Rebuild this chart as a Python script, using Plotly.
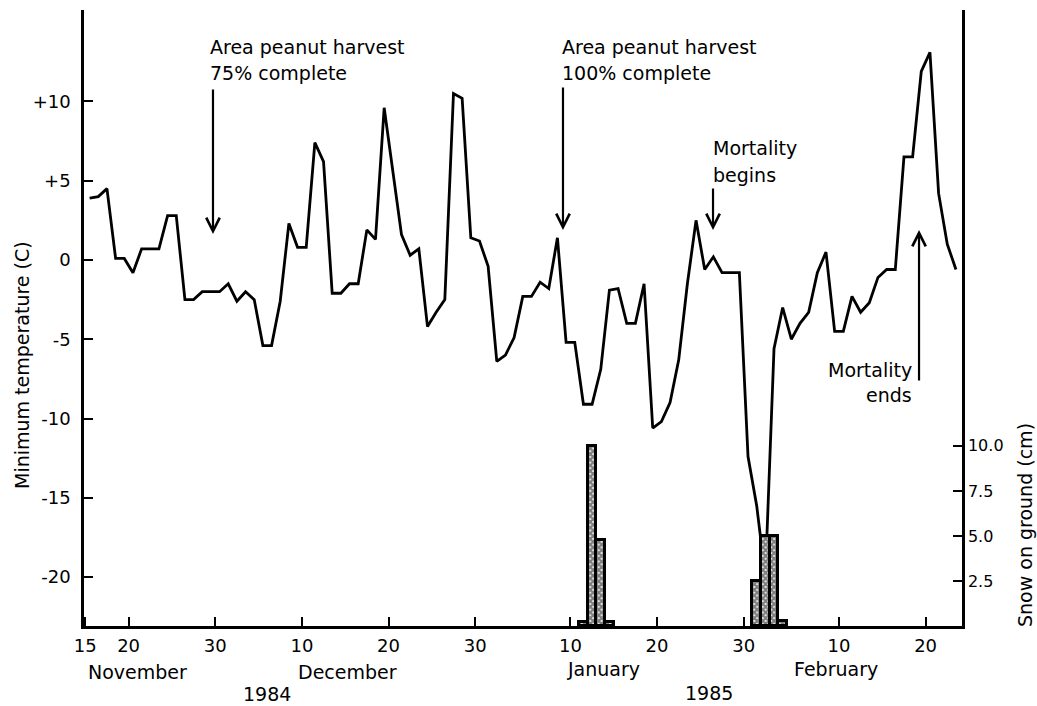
import plotly.graph_objects as go
import pandas as pd

# ---------------- data ----------------
start = pd.Timestamp("1984-11-15")

# daily minimum temperature (C), 15 Nov 1984 .. 23 Feb 1985
temp_c = [
    3.9, 4.0, 4.5, 0.1, 0.1, -0.8, 0.7, 0.7, 0.7, 2.8,      # Nov 15-24
    2.8, -2.5, -2.5, -2.0, -2.0, -2.0, -1.5, -2.6, -2.0, -2.5,  # Nov 25 - Dec 4
    -5.4, -5.4, -2.6, 2.3, 0.8, 0.8, 7.4, 6.2, -2.1, -2.1,  # Dec 5-14
    -1.5, -1.5, 1.9, 1.3, 9.6, 5.5, 1.6, 0.3, 0.7, -4.2,    # Dec 15-24
    -3.3, -2.5, 10.5, 10.2, 1.4, 1.2, -0.4, -6.4, -6.0, -4.9,  # Dec 25 - Jan 3
    -2.3, -2.3, -1.4, -1.8, 1.4, -5.2, -5.2, -9.1, -9.1, -6.9,  # Jan 4-13
    -1.9, -1.8, -4.0, -4.0, -1.5, -10.6, -10.2, -9.0, -6.3, -1.5,  # Jan 14-23
    2.5, -0.6, 0.2, -0.8, -0.8, -0.8, -12.4, -15.5, -20.0, -5.6,  # Jan 24 - Feb 2
    -3.0, -5.0, -4.0, -3.3, -0.8, 0.5, -4.5, -4.5, -2.3, -3.3,  # Feb 3-12
    -2.7, -1.1, -0.6, -0.6, 6.5, 6.5, 11.9, 13.1, 4.2, 1.0,  # Feb 13-22
    -0.6,                                                    # Feb 23
]
temp_dates = [start + pd.Timedelta(days=i, hours=12) for i in range(len(temp_c))]

snow_days = ["1985-01-11", "1985-01-12", "1985-01-13", "1985-01-14",
             "1985-01-31", "1985-02-01", "1985-02-02", "1985-02-03"]
snow_cm = [0.2, 10.0, 4.8, 0.2, 2.5, 5.0, 5.0, 0.3]
snow_dates = [pd.Timestamp(d) + pd.Timedelta(hours=12) for d in snow_days]

tick_dates = ["1984-11-15", "1984-11-20", "1984-11-30", "1984-12-10", "1984-12-20",
              "1984-12-30", "1985-01-10", "1985-01-20", "1985-01-30", "1985-02-10",
              "1985-02-20"]
tick_text = ["15", "20", "30", "10", "20", "30", "10", "20", "30", "10", "20"]

temp_ticks = [10, 5, 0, -5, -10, -15, -20]
temp_tick_text = ["+10", "+5", "0", "-5", "-10", "-15", "-20"]
snow_ticks = [2.5, 5.0, 7.5, 10.0]
snow_tick_text = ["2.5", "5.0", "7.5", "10.0"]

month_labels = ["November", "December", "January", "February"]
year_labels = ["1984", "1985"]


def at(day):
    return start + pd.Timedelta(days=day)


FONT = "DejaVu Sans"

fig = go.Figure()
fig.add_trace(go.Scatter(
    x=temp_dates, y=temp_c, mode="lines",
    line=dict(color="black", width=2.8), hoverinfo="skip", showlegend=False,
))
fig.add_trace(go.Bar(
    x=snow_dates, y=snow_cm, yaxis="y2", width=86400000,
    marker=dict(color="white", line=dict(color="black", width=3),
                pattern=dict(shape="x", fgcolor="black", bgcolor="white",
                             size=4, solidity=0.8)),
    hoverinfo="skip", showlegend=False,
))

ann = []


def txt(s, x, y, xanchor="left", size=19):
    ann.append(dict(text=s, x=x, y=y, xref="x", yref="paper", xanchor=xanchor,
                    yanchor="middle", showarrow=False,
                    font=dict(family=FONT, size=size, color="black")))


txt("Area peanut harvest", at(14.16), 0.940)
txt("75% complete", at(14.16), 0.898)
txt("Area peanut harvest", at(54.8), 0.940)
txt("100% complete", at(54.8), 0.898)
txt("Mortality", at(72.23), 0.776)
txt("begins", at(72.23), 0.732)
txt("Mortality", at(95.66), 0.4156, xanchor="right")
txt("ends", at(95.66), 0.375, xanchor="right")

# month / year labels
for lab, d, y in zip(month_labels, [6.08, 30.32, 59.76, 86.66],
                     [-0.0747, -0.0747, -0.0698, -0.0698]):
    txt(lab, at(d), y, xanchor="center")
for lab, d, y in zip(year_labels, [20.97, 71.99], [-0.111, -0.108]):
    txt(lab, at(d), y, xanchor="center")


def arrow(day, tipT, ay):
    ann.append(dict(x=at(day), y=tipT, xref="x", yref="y", text="",
                    showarrow=True, arrowhead=5, arrowwidth=2.2, arrowsize=1.2,
                    arrowcolor="black", ax=0, ay=ay))


arrow(14.74, 1.64, -146)
arrow(55.14, 1.89, -144)
arrow(72.46, 1.89, -43)
arrow(96.24, 1.89, 152)

# axis titles
ann.append(dict(text="Minimum temperature (C)", x=-0.0706, y=0.4237,
                xref="paper", yref="paper", textangle=-90, showarrow=False,
                xanchor="center", yanchor="middle",
                font=dict(family=FONT, size=19, color="black")))
ann.append(dict(text="Snow on ground (cm)", x=1.0718, y=0.164,
                xref="paper", yref="paper", textangle=-90, showarrow=False,
                xanchor="center", yanchor="middle",
                font=dict(family=FONT, size=19, color="black")))

fig.update_layout(
    width=1037, height=706,
    margin=dict(l=84, r=75, t=10, b=80),
    paper_bgcolor="white", plot_bgcolor="white",
    font=dict(family=FONT, size=18, color="black"),
    bargap=0,
    xaxis=dict(
        type="date", range=[at(-0.15), at(101.2)],
        tickvals=tick_dates, ticktext=tick_text,
        ticks="inside", ticklen=9, tickwidth=2, tickcolor="black",
        showline=True, linecolor="black", linewidth=2.5,
        showgrid=False, zeroline=False, ticklabelstandoff=2,
        tickfont=dict(family=FONT, size=18),
    ),
    yaxis=dict(
        range=[-23.09, 15.77],
        tickvals=temp_ticks, ticktext=temp_tick_text,
        ticks="inside", ticklen=9, tickwidth=2, tickcolor="black",
        showline=True, linecolor="black", linewidth=2.5,
        showgrid=False, zeroline=False, ticklabelstandoff=7,
        tickfont=dict(family=FONT, size=18),
    ),
    yaxis2=dict(
        overlaying="y", side="right", range=[0, 34.2],
        tickvals=snow_ticks, ticktext=snow_tick_text,
        ticks="inside", ticklen=9, tickwidth=2, tickcolor="black",
        showline=True, linecolor="black", linewidth=2.5,
        showgrid=False, zeroline=False,
        tickfont=dict(family=FONT, size=16),
    ),
    annotations=ann,
)

fig.write_html("out.html", config={"displayModeBar": False},
               post_script="document.body.style.margin='0';document.body.style.overflow='hidden';")
